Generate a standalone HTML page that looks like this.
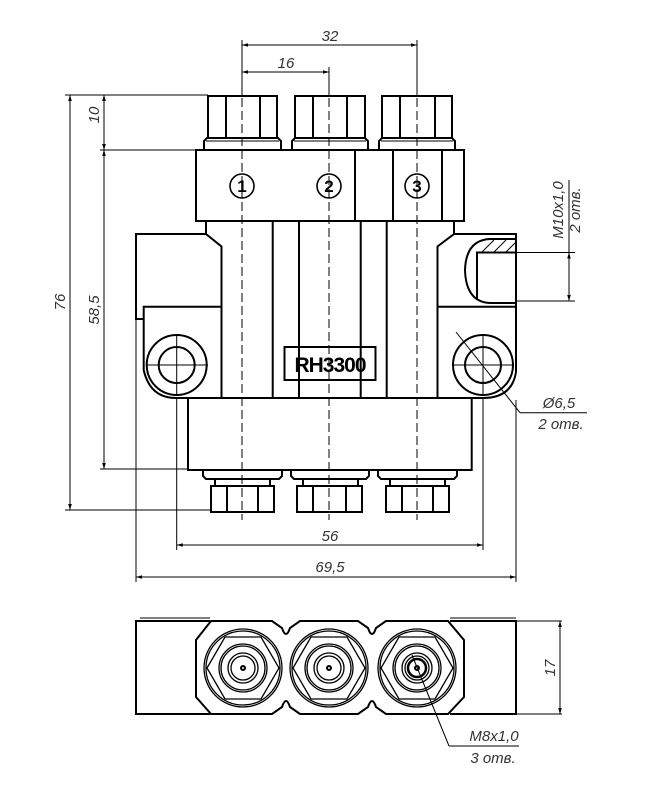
<!DOCTYPE html>
<html><head><meta charset="utf-8"><style>html,body{margin:0;padding:0;background:#fff}svg{display:block}</style></head>
<body>
<svg width="648" height="799" viewBox="0 0 648 799" xmlns="http://www.w3.org/2000/svg">
<defs>
<marker id="a" viewBox="0 0 10 10" refX="10" refY="5" markerWidth="8" markerHeight="6" orient="auto-start-reverse" markerUnits="userSpaceOnUse"><path d="M0,2 L10,5 L0,8z" fill="#000"/></marker>
</defs>
<g fill="none" stroke="#000" stroke-width="1">
<line x1="242" y1="40" x2="242" y2="95"/><line x1="417" y1="40" x2="417" y2="95"/>
<line x1="242" y1="45" x2="417" y2="45" marker-start="url(#a)" marker-end="url(#a)"/>
<line x1="329" y1="67" x2="329" y2="95"/>
<line x1="242" y1="72" x2="329" y2="72" marker-start="url(#a)" marker-end="url(#a)"/>
<line x1="65" y1="95" x2="208" y2="95"/>
<line x1="100" y1="150" x2="196" y2="150"/>
<line x1="100" y1="469" x2="188" y2="469"/>
<line x1="65" y1="510" x2="211" y2="510"/>
<line x1="70" y1="95" x2="70" y2="510" marker-start="url(#a)" marker-end="url(#a)"/>
<line x1="104" y1="95" x2="104" y2="150" marker-start="url(#a)" marker-end="url(#a)"/>
<line x1="104" y1="150" x2="104" y2="469" marker-start="url(#a)" marker-end="url(#a)"/>
<line x1="176.7" y1="398" x2="176.7" y2="550"/><line x1="483" y1="398" x2="483" y2="550"/>
<line x1="176.7" y1="545" x2="483" y2="545" marker-start="url(#a)" marker-end="url(#a)"/>
<line x1="136" y1="320" x2="136" y2="582"/><line x1="516" y1="400" x2="516" y2="582"/>
<line x1="136" y1="577" x2="516" y2="577" marker-start="url(#a)" marker-end="url(#a)"/>
<line x1="516" y1="252.5" x2="575" y2="252.5"/><line x1="516" y1="301" x2="575" y2="301"/>
<line x1="569" y1="180" x2="569" y2="301"/>
<line x1="569" y1="268" x2="569" y2="252.5" marker-end="url(#a)"/>
<line x1="569" y1="285" x2="569" y2="301" marker-end="url(#a)"/>
<line x1="456" y1="332" x2="520" y2="412.7"/><line x1="520" y1="412.7" x2="587" y2="412.7"/>
<g stroke-dasharray="9,4"><line x1="242" y1="98" x2="242" y2="520"/><line x1="329" y1="98" x2="329" y2="520"/><line x1="417" y1="98" x2="417" y2="520"/></g>
<line x1="146" y1="365" x2="208" y2="365"/><line x1="176.7" y1="334" x2="176.7" y2="396"/>
<line x1="452" y1="365" x2="514" y2="365"/><line x1="483" y1="334" x2="483" y2="396"/>
</g>
<g fill="none" stroke="#000" stroke-width="2">
<rect x="208" y="96" width="69" height="42"/><line x1="226" y1="96" x2="226" y2="138"/><line x1="260" y1="96" x2="260" y2="138"/>
<path d="M204,150 V141 L207,138 H278 L281,141 V150"/><line x1="206" y1="141" x2="279" y2="141" stroke-width="1"/>
<rect x="295" y="96" width="70" height="42"/><line x1="313" y1="96" x2="313" y2="138"/><line x1="347" y1="96" x2="347" y2="138"/>
<path d="M292,150 V141 L295,138 H365 L368,141 V150"/><line x1="294" y1="141" x2="366" y2="141" stroke-width="1"/>
<rect x="382" y="96" width="70" height="42"/><line x1="400" y1="96" x2="400" y2="138"/><line x1="435" y1="96" x2="435" y2="138"/>
<path d="M379,150 V141 L382,138 H452 L455,141 V150"/><line x1="381" y1="141" x2="453" y2="141" stroke-width="1"/>
<rect x="196" y="150" width="268" height="71"/>
<line x1="355" y1="150" x2="355" y2="221"/><line x1="393" y1="150" x2="393" y2="221"/><line x1="442" y1="150" x2="442" y2="221"/>
<path d="M206,221 V234 L221.5,246.5 V398"/>
<path d="M454,221 V234 L437.5,246.5 V398"/>
<line x1="272.7" y1="221" x2="272.7" y2="398"/><line x1="299" y1="221" x2="299" y2="398"/>
<line x1="360.7" y1="221" x2="360.7" y2="398"/><line x1="386.7" y1="221" x2="386.7" y2="398"/>
<path d="M206,234 H136 V319 H143.7"/>
<path d="M221.5,306.7 H143.7 V370 Q150,398 176,398 H221.5"/>
<circle cx="176.7" cy="365" r="30"/><circle cx="176.7" cy="365" r="18"/>
<path d="M454,234 H516 V372"/>
<path d="M437.5,306.7 H516"/>
<path d="M516,372 Q512,398 483,398 H437.5"/>
<circle cx="483" cy="365" r="30"/><circle cx="483" cy="365" r="18"/>
<path d="M516,239 H490 Q466,240 465,270 Q466,302 490,303 H516"/>
<path d="M516,252.5 H477 V300"/>
<g stroke-width="1"><line x1="482" y1="252" x2="494" y2="240"/><line x1="494" y1="252" x2="506" y2="240"/><line x1="506" y1="252" x2="516" y2="242"/></g>
<rect x="284.5" y="347" width="91" height="33"/>
<rect x="188" y="398" width="283.7" height="72"/>
<path d="M203,470 V476 L206,479 H279 L282,476 V470"/><rect x="215" y="479" width="55" height="7"/>
<rect x="211" y="486" width="63" height="26"/><line x1="227" y1="486" x2="227" y2="512"/><line x1="258" y1="486" x2="258" y2="512"/>
<path d="M291,470 V476 L294,479 H366 L369,476 V470"/><rect x="303" y="479" width="55" height="7"/>
<rect x="297" y="486" width="65" height="26"/><line x1="313" y1="486" x2="313" y2="512"/><line x1="346" y1="486" x2="346" y2="512"/>
<path d="M378,470 V476 L381,479 H454 L457,476 V470"/><rect x="390" y="479" width="55" height="7"/>
<rect x="386" y="486" width="63" height="26"/><line x1="402" y1="486" x2="402" y2="512"/><line x1="433" y1="486" x2="433" y2="512"/>
</g>
<g font-family="Liberation Sans, sans-serif">
<g fill="none" stroke="#000" stroke-width="1.6"><circle cx="242" cy="186" r="12"/><circle cx="329" cy="186" r="12"/><circle cx="417" cy="186" r="12"/></g>
<g font-size="17" font-weight="bold" text-anchor="middle"><text x="242" y="192">1</text><text x="329" y="192">2</text><text x="417" y="192">3</text></g>
<text x="330" y="372" font-size="21" font-weight="bold" text-anchor="middle" letter-spacing="-1">RH3300</text>
<g font-size="15" font-style="italic" fill="#333" text-anchor="middle">
<text x="330" y="41">32</text><text x="286" y="68">16</text>
<text x="330" y="541">56</text><text x="330" y="572">69,5</text>
<text transform="translate(65,302) rotate(-90)">76</text>
<text transform="translate(99,310) rotate(-90)">58,5</text>
<text transform="translate(99,115) rotate(-90)">10</text>
<text transform="translate(563,210) rotate(-90)">M10x1,0</text>
<text transform="translate(580,210) rotate(-90)">2 отв.</text>
<text x="559" y="408">Ø6,5</text><text x="561" y="429">2 отв.</text>
<text transform="translate(555,668) rotate(-90)">17</text>
<text x="494" y="741">M8x1,0</text><text x="493" y="763">3 отв.</text>
</g>
</g>
<g fill="none" stroke="#000" stroke-width="2">
<path d="M210,621 H136 V714 H210"/><path d="M450,621 H516 V714 H450"/>
<line x1="140" y1="618" x2="210" y2="618" stroke-width="1"/><line x1="450" y1="618" x2="516" y2="618" stroke-width="1"/>
<path d="M211,621 H272 L282,628 Q286,640 290,628 L300,621 H358 L368,628 Q372,640 376,628 L386,621 H448 L464,640 V697 L448,714 H386 L376,707 Q372,695 368,707 L358,714 H300 L290,707 Q286,695 282,707 L272,714 H211 L196,697 V640 Z"/>
</g>
<g fill="none" stroke="#000" stroke-width="1.3">
<g id="f">
<circle cx="243" cy="668" r="39"/><circle cx="243" cy="668" r="37"/>
<polygon points="207,668 225,637 261,637 279,668 261,699 225,699"/>
<circle cx="243" cy="668" r="24"/><circle cx="243" cy="668" r="22"/>
<circle cx="243" cy="668" r="15"/><circle cx="243" cy="668" r="12"/>
<circle cx="243" cy="668" r="2" stroke-width="2"/>
</g>
<use href="#f" x="86"/><use href="#f" x="174"/>
<circle cx="417" cy="668" r="9" stroke-width="2.5"/>
</g>
<g fill="none" stroke="#000" stroke-width="1">
<line x1="516" y1="621" x2="562" y2="621"/><line x1="516" y1="714" x2="562" y2="714"/>
<line x1="560" y1="621" x2="560" y2="714" marker-start="url(#a)" marker-end="url(#a)"/>
<line x1="412" y1="655" x2="449" y2="746"/><line x1="449" y1="746" x2="519" y2="746"/>
</g>
</svg>
</body></html>
